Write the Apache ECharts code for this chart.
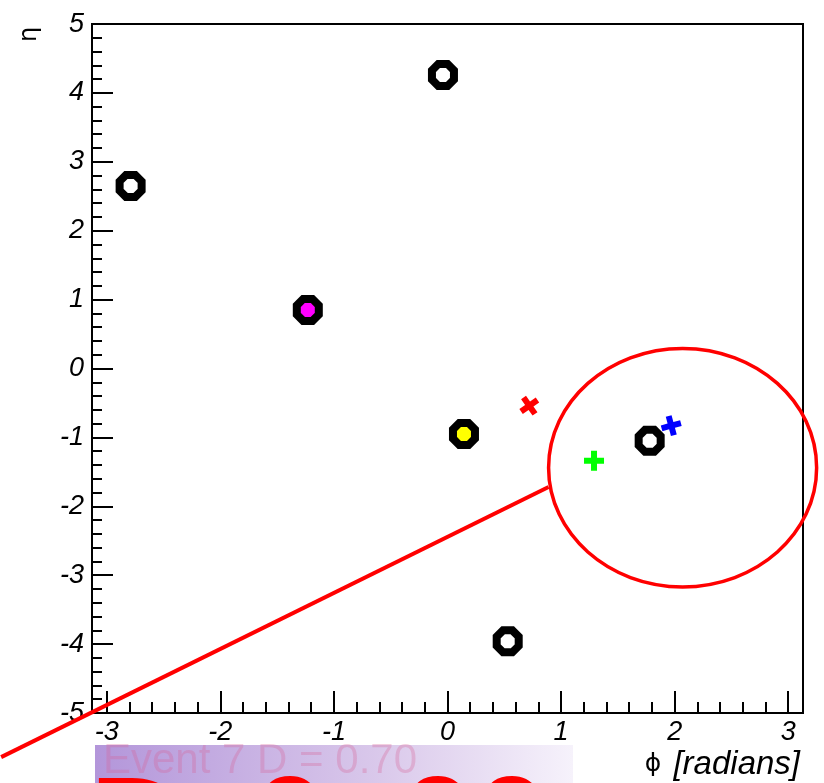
<!DOCTYPE html>
<html>
<head>
<meta charset="utf-8">
<script src="https://cdn.jsdelivr.net/npm/echarts@6/dist/echarts.min.js"></script>
<style>
  html, body { margin: 0; padding: 0; background: #ffffff; }
  #chart { width: 824px; height: 783px; }
</style>
</head>
<body>
<div id="chart"></div>
<script>
// Axis ranges and tick labels
const phiRange = [-3.13, 3.13];
const etaRange = [-5, 5];
const phiTicks = [-3, -2, -1, 0, 1, 2, 3];
const etaTicks = [-5, -4, -3, -2, -1, 0, 1, 2, 3, 4, 5];

// Jets drawn as open octagons: [phi, eta]
const jetsOpen = [[-0.04, 4.26], [-2.79, 2.65], [1.78, -1.05], [0.53, -3.96]];
const jetMagenta = [[-1.23, 0.85]];
const jetYellow = [[0.145, -0.95]];

// Particles drawn as crosses: [phi, eta]
const crossRed = [[0.72, -0.54]];
const crossGreen = [[1.29, -1.34]];
const crossBlue = [[1.97, -0.83]];

// Highlight annotation (data units): ellipse centre, radii, pointer line
const ringCentre = [2.07, -1.44];
const ringRadii = [1.18, 1.73];
const pointerFrom = [-3.93, -5.64];
const pointerTo = [0.89, -1.72];

// Captions
const captionText = 'Event 7 D = 0.70';
const bigTextLeft = 'D =';
const bigTextRight = '0. 00';

const minorPhi = [];
for (let v = -3; v <= 3.001; v += 0.2) {
  const r = Math.round(v * 10) / 10;
  if (Math.abs(r - Math.round(r)) > 1e-6) minorPhi.push(r);
}

const octagon = 'path://M29,0 L71,0 L100,29 L100,71 L71,100 L29,100 L0,71 L0,29 Z';
const plus = 'path://M35,0 L65,0 L65,35 L100,35 L100,65 L65,65 L65,100 L35,100 L35,65 L0,65 L0,35 L35,35 Z';

const labelFont = { fontFamily: 'Liberation Sans', fontStyle: 'italic', fontSize: 27, color: '#000' };

const chart = echarts.init(document.getElementById('chart'), null, { renderer: 'canvas' });

function ringSeries(data, fill) {
  return {
    type: 'scatter', xAxisIndex: 0, yAxisIndex: 0, data: data,
    symbol: octagon, symbolSize: 22,
    itemStyle: { color: fill, borderColor: '#000', borderWidth: 8, opacity: 1 },
    z: 5
  };
}
function crossSeries(data, color, rot) {
  return {
    type: 'scatter', xAxisIndex: 0, yAxisIndex: 0, data: data,
    symbol: plus, symbolSize: 20, symbolRotate: rot,
    itemStyle: { color: color, opacity: 1 },
    z: 6
  };
}

chart.setOption({
  animation: false,
  backgroundColor: '#ffffff',
  grid: { left: 92, right: 21, top: 24, bottom: 70, show: true, borderColor: '#000', borderWidth: 2, backgroundColor: 'transparent' },
  xAxis: [
    {
      type: 'value', min: phiRange[0], max: phiRange[1],
      axisLine: { show: true, onZero: false, lineStyle: { color: '#000', width: 2 } },
      axisTick: { show: true, inside: true, length: 22, customValues: phiTicks, lineStyle: { color: '#000', width: 2 } },
      axisLabel: Object.assign({ customValues: phiTicks, margin: 6, showMinLabel: true, showMaxLabel: true }, labelFont),
      splitLine: { show: false },
      name: '{p|ϕ}{s|  }{r|[radians]}', nameLocation: 'end', nameGap: 0,
      nameTextStyle: {
        align: 'right', verticalAlign: 'top', padding: [35, 3, 0, 0],
        rich: {
          p: { fontFamily: 'DejaVu Sans', fontSize: 25, color: '#000' },
          s: { fontFamily: 'Liberation Sans', fontSize: 22, color: '#000' },
          r: { fontFamily: 'Liberation Sans', fontStyle: 'italic', fontSize: 33, color: '#000' }
        }
      }
    },
    {
      type: 'value', min: phiRange[0], max: phiRange[1], position: 'bottom',
      axisLine: { show: false, onZero: false },
      axisTick: { show: true, inside: true, length: 11, customValues: minorPhi, lineStyle: { color: '#000', width: 2 } },
      axisLabel: { show: false },
      splitLine: { show: false }
    }
  ],
  yAxis: {
    type: 'value', min: etaRange[0], max: etaRange[1], interval: 1,
    axisLine: { show: true, onZero: false, lineStyle: { color: '#000', width: 2 } },
    axisTick: { show: true, inside: true, length: 21, lineStyle: { color: '#000', width: 2 } },
    minorTick: { show: true, splitNumber: 5, length: 10, lineStyle: { color: '#000', width: 2 } },
    axisLabel: Object.assign({ margin: 8 }, labelFont),
    splitLine: { show: false }
  },
  series: [
    ringSeries(jetsOpen, '#ffffff'),
    ringSeries(jetMagenta, '#ff00ff'),
    ringSeries(jetYellow, '#ffff00'),
    crossSeries(crossRed, '#ff0000', 35),
    crossSeries(crossGreen, '#00ff00', 0),
    crossSeries(crossBlue, '#0000ff', 15)
  ]
});

function px(p) { return chart.convertToPixel({ xAxisIndex: 0, yAxisIndex: 0 }, p); }

const c = px(ringCentre);
const edge = px([ringCentre[0] + ringRadii[0], ringCentre[1] - ringRadii[1]]);
const a = px(pointerFrom);
const b = px(pointerTo);

chart.setOption({
  graphic: [
    {
      type: 'text', x: 18, y: 42, rotation: Math.PI / 2,
      style: { text: 'η', font: '24px "DejaVu Sans"', fill: '#000', verticalAlign: 'top' }, z: 10
    },
    {
      type: 'rect', shape: { x: 95, y: 745, width: 478, height: 40 },
      style: {
        fill: new echarts.graphic.LinearGradient(0, 0, 1, 0, [
          { offset: 0, color: '#b396da' },
          { offset: 0.6, color: '#dac9eb' },
          { offset: 1, color: '#f6f2fb' }
        ])
      }, z: 8
    },
    {
      type: 'text', x: 103, y: 782,
      style: { text: captionText, font: '42px "Liberation Sans"', fill: 'rgba(215,95,150,0.3)', verticalAlign: 'bottom' }, z: 9
    },
    {
      type: 'text', x: 90, y: 767,
      style: { text: bigTextLeft, font: 'bold 133px "Liberation Sans"', fill: '#ff0000', verticalAlign: 'top' }, z: 9
    },
    {
      type: 'text', x: 253, y: 767,
      style: { text: bigTextRight, font: 'bold 133px "Liberation Sans"', fill: '#ff0000', verticalAlign: 'top' }, z: 9
    },
    {
      type: 'ellipse', shape: { cx: c[0], cy: c[1], rx: edge[0] - c[0], ry: edge[1] - c[1] },
      style: { fill: 'none', stroke: '#ff0000', lineWidth: 3.5 }, z: 20
    },
    {
      type: 'line', shape: { x1: a[0], y1: a[1], x2: b[0], y2: b[1] },
      style: { stroke: '#ff0000', lineWidth: 4 }, z: 20
    }
  ]
});
</script>
</body>
</html>
